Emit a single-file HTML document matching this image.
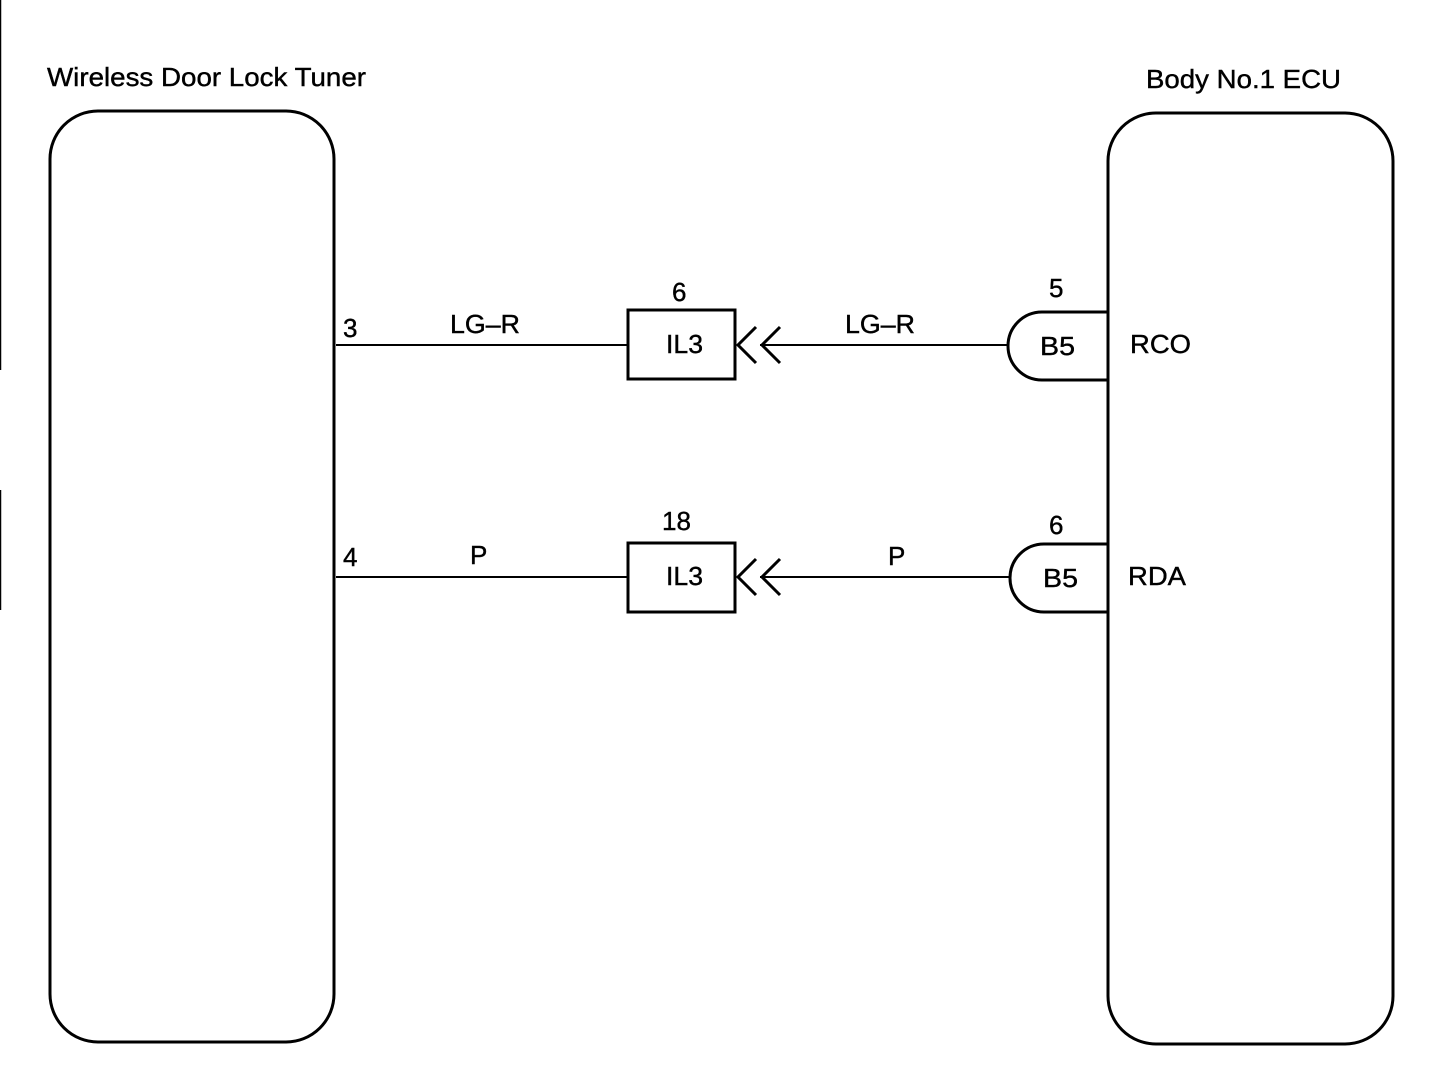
<!DOCTYPE html>
<html><head><style>body{margin:0;background:#fff}</style></head><body>
<svg width="1440" height="1066" xmlns="http://www.w3.org/2000/svg" font-family="Liberation Sans, sans-serif" fill="none" stroke="#000">
<line x1="0.5" y1="0" x2="0.5" y2="370" stroke-width="1.5"/>
<line x1="0.5" y1="490" x2="0.5" y2="610" stroke-width="1.5"/>
<rect x="50" y="111" width="284" height="931" rx="48" ry="48" stroke-width="3"/>
<rect x="1108" y="113" width="285" height="931" rx="48" ry="48" stroke-width="3"/>
<g stroke-width="2">
<line x1="336" y1="345" x2="627" y2="345"/>
<line x1="760" y1="345" x2="1008" y2="345"/>
<line x1="336" y1="577" x2="627" y2="577"/>
<line x1="760" y1="577" x2="1010" y2="577"/>
</g>
<g stroke-width="3">
<rect x="628" y="310" width="107" height="69"/>
<rect x="628" y="543" width="107" height="69"/>
<polyline points="756,327 738,345 756,363"/>
<polyline points="780,327 762,345 780,363"/>
<polyline points="756,559 738,577 756,595"/>
<polyline points="780,559 762,577 780,595"/>
<path d="M1107,312 L1042,312 A34,34 0 0 0 1042,380 L1107,380"/>
<path d="M1107,544 L1044,544 A34,34 0 0 0 1044,612 L1107,612"/>
</g>
<g fill="#000" stroke="#000" stroke-width="0.4" font-size="26">
<text x="47" y="86" textLength="319" lengthAdjust="spacingAndGlyphs">Wireless Door Lock Tuner</text>
<text x="1146" y="88" textLength="195" lengthAdjust="spacingAndGlyphs">Body No.1 ECU</text>
<text x="343" y="337">3</text>
<text x="450" y="333" textLength="70" lengthAdjust="spacingAndGlyphs">LG–R</text>
<text x="672" y="301">6</text>
<text x="666" y="353" textLength="37" lengthAdjust="spacingAndGlyphs">IL3</text>
<text x="845" y="333" textLength="70" lengthAdjust="spacingAndGlyphs">LG–R</text>
<text x="1049" y="297">5</text>
<text x="1040" y="355" textLength="35" lengthAdjust="spacingAndGlyphs">B5</text>
<text x="1130" y="353" textLength="61" lengthAdjust="spacingAndGlyphs">RCO</text>
<text x="343" y="566">4</text>
<text x="470" y="564">P</text>
<text x="662" y="530">18</text>
<text x="666" y="585" textLength="37" lengthAdjust="spacingAndGlyphs">IL3</text>
<text x="888" y="565">P</text>
<text x="1049" y="534">6</text>
<text x="1043" y="587" textLength="35" lengthAdjust="spacingAndGlyphs">B5</text>
<text x="1128" y="585" textLength="58" lengthAdjust="spacingAndGlyphs">RDA</text>
</g>
</svg>
</body></html>
